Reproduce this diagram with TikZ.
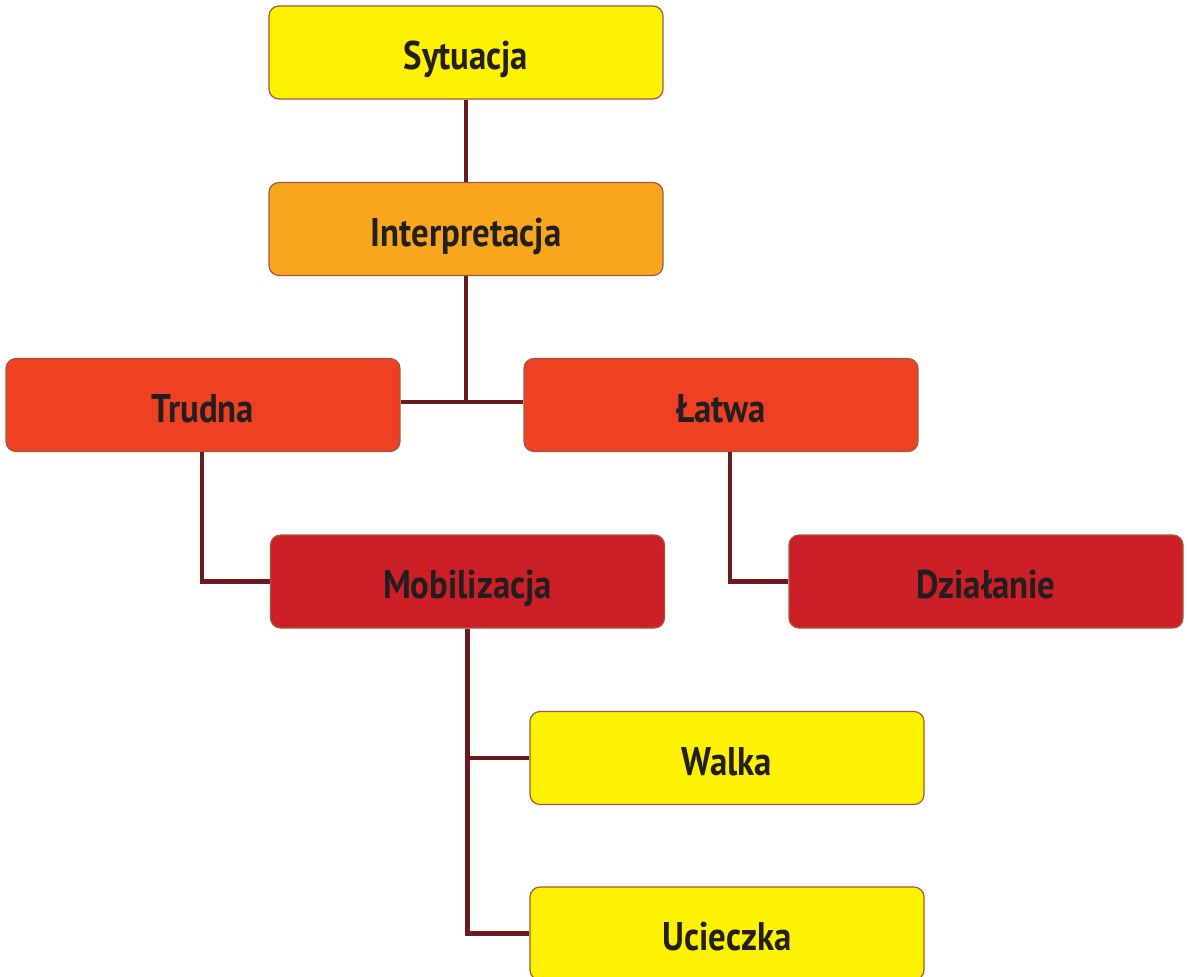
\documentclass[tikz,border=0pt]{standalone}
\usepackage{fontspec}
\setmainfont{PT Sans}[FakeStretch=0.87]
\definecolor{yel}{HTML}{FFF200}
\definecolor{ora}{HTML}{F8A61E}
\definecolor{orred}{HTML}{EE4124}
\definecolor{darkred}{HTML}{CC1F26}
\definecolor{rim}{HTML}{A0583C}
\definecolor{linkcol}{HTML}{6B1A1E}
\definecolor{txt}{HTML}{231F20}
\begin{document}
\begin{tikzpicture}[x=0.75pt,y=-0.75pt,
    box/.style={rectangle,rounded corners=7.5pt,draw=rim,line width=0.9pt,
                minimum width=295.5pt,minimum height=69.75pt,text=txt,
                text height=26pt,text depth=0pt,
                font=\fontsize{30}{36}\selectfont\bfseries},
    link/.style={draw=linkcol,line width=3.6pt}]
        \useasboundingbox (0,0) rectangle (1188,976);

        \node[box,fill=yel]     (syt) at (466,52.5)    {Sytuacja};
        \node[box,fill=ora]     (int) at (466,229)     {Interpretacja};
        \node[box,fill=orred]   (tru) at (203,405)     {Trudna};
        \node[box,fill=orred]   (lat) at (721,405)     {Łatwa};
        \node[box,fill=darkred] (mob) at (467.5,581.5) {Mobilizacja};
        \node[box,fill=darkred] (dzi) at (986,581.5)   {Działanie};
        \node[box,fill=yel]     (wal) at (727,758)     {Walka};
        \node[box,fill=yel]     (uci) at (727,933.5)   {Ucieczka};

        \coordinate (fork) at (int.south |- 0,402);

        \draw[link] (syt) -- (int);
        \draw[link] (int) -- (fork);
        \draw[link] ([yshift=2.25pt]tru.east) -- ([yshift=2.25pt]lat.west);
        \draw[link] ([xshift=-0.75pt]tru.south) |- (mob.west);
        \draw[link] ([xshift=6.75pt]lat.south) |- (dzi.west);
        \draw[link] (mob) |- (wal);
        \draw[link] (mob) |- (uci);
      \end{tikzpicture}
\end{document}
